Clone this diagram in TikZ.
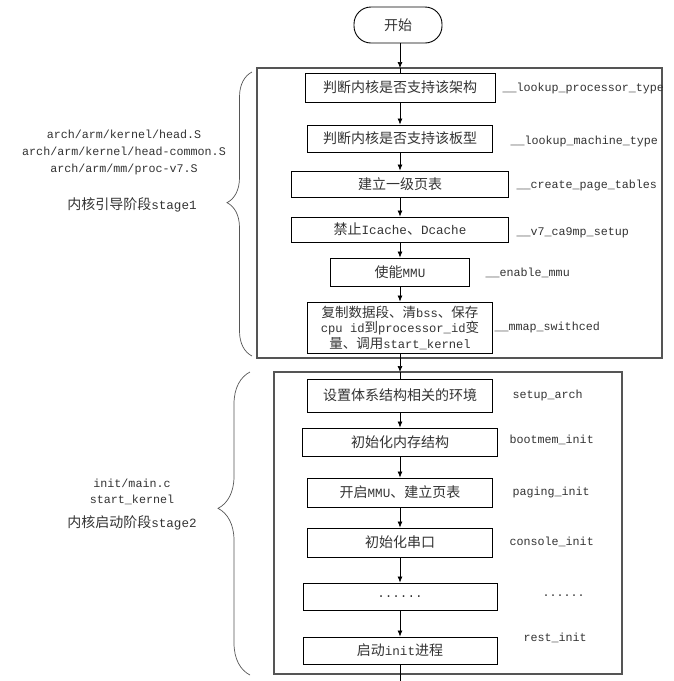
\documentclass[tikz,border=0pt]{standalone}
\usepackage{fontspec}
\setmainfont{Noto Sans CJK SC}
\setmonofont{Liberation Mono}[Scale=0.9]
\usetikzlibrary{arrows.meta, decorations.pathreplacing}
\definecolor{rahmen}{HTML}{555555}
\definecolor{schrift}{HTML}{333333}

\begin{document}
\begin{tikzpicture}[x=1pt, y=-1pt,
    box/.style={draw, line width=0.9pt, inner sep=1pt, align=center,
                font=\fontsize{14}{16}\selectfont, text=schrift},
    fn/.style={anchor=west, font=\fontsize{13}{15}\ttfamily, text=schrift},
    side/.style={align=center, font=\fontsize{13}{17}\ttfamily, text=schrift},
    arr/.style={-{Latex[length=6pt,width=5pt]}, line width=0.7pt},
    stage/.style={draw=rahmen, line width=1.1pt},
    brc/.style={decorate, draw=rahmen, line width=0.7pt}
  ]
  \useasboundingbox (0,0) rectangle (673,681);

  % Rahmen
  \draw[stage] (257,68) rectangle (662,358);
  \draw[stage] (274,372) rectangle (622,674);
  \coordinate (s1in) at (400,68);
  \coordinate (s2in) at (400,372);
  \coordinate (ende) at (400,681);

  \node[box, rounded corners=17pt, minimum width=88pt, minimum height=36pt] (start) at (398,25) {开始};

  % stage1
  \node[box, minimum width=190pt, minimum height=29pt] (b1) at (400,87.5) {判断内核是否支持该架构};
  \node[box, minimum width=185pt, minimum height=27pt] (b2) at (400,138.5) {判断内核是否支持该板型};
  \node[box, minimum width=217pt, minimum height=26pt] (b3) at (400,184) {建立一级页表};
  \node[box, minimum width=217pt, minimum height=25pt] (b4) at (400,229.5) {禁止\texttt{Icache}、\texttt{Dcache}};
  \node[box, minimum width=139pt, minimum height=28pt] (b5) at (400,272) {使能\texttt{MMU}};
  \node[box, minimum width=185pt, minimum height=51pt, font=\fontsize{13.5}{15.5}\selectfont] (b6) at (400,327.5)
    {复制数据段、清\texttt{bss}、保存\\\texttt{cpu id}到\texttt{processor\_id}变\\量、调用\texttt{start\_kernel}};

  \node[fn] (f1) at (499,88) {\_\_lookup\_processor\_type};
  \node[fn] (f2) at (507,141) {\_\_lookup\_machine\_type};
  \node[fn] (f3) at (513,185) {\_\_create\_page\_tables};
  \node[fn] (f4) at (513,233) {\_\_v7\_ca9mp\_setup};
  \node[fn] (f5) at (482,273) {\_\_enable\_mmu};
  \node[fn] (f6) at (491,327) {\_\_mmap\_swithced};

  % stage2
  \node[box, minimum width=185pt, minimum height=33pt] (c1) at (400,395.5) {设置体系结构相关的环境};
  \node[box, minimum width=195pt, minimum height=28pt] (c2) at (400,442) {初始化内存结构};
  \node[box, minimum width=185pt, minimum height=29pt] (c3) at (400,492.5) {开启\texttt{MMU}、建立页表};
  \node[box, minimum width=185pt, minimum height=29pt] (c4) at (400,542.5) {初始化串口};
  \node[box, minimum width=194pt, minimum height=27pt] (c5) at (400,596.5) {\texttt{......}};
  \node[box, minimum width=194pt, minimum height=27pt] (c6) at (400,650.5) {启动\texttt{init}进程};

  \node[fn] (g1) at (509,395) {setup\_arch};
  \node[fn] (g2) at (506,440) {bootmem\_init};
  \node[fn] (g3) at (509,492) {paging\_init};
  \node[fn] (g4) at (506,542) {console\_init};
  \node[fn] (g5) at (539,596) {......};
  \node[fn] (g6) at (520,638) {rest\_init};

  % Pfeile
  \draw[arr] (start.south -| s1in) -- (s1in);
  \draw[line width=0.7pt] (s1in) -- (b1);
  \foreach \a/\b in {b1/b2, b2/b3, b3/b4, b4/b5, b5/b6, c1/c2, c2/c3, c3/c4, c4/c5, c5/c6}
    \draw[arr] (\a) -- (\b);
  \draw[arr] (b6) -- (s2in);
  \draw[line width=0.7pt] (s2in) -- (c1);
  \draw[line width=0.7pt] (c6) -- (ende);

  % Klammern
  \draw[brc, decoration={brace, amplitude=25pt, aspect=0.54}] (252,356) -- (252,72);
  \draw[brc, decoration={brace, amplitude=32pt, aspect=0.55}] (250,675) -- (250,372);

  \node[side] (p1) at (124,152) {arch/arm/kernel/head.S\\arch/arm/kernel/head-common.S\\arch/arm/mm/proc-v7.S};
  \node[side, font=\fontsize{14}{17}\selectfont] (t1) at (132,205) {内核引导阶段\texttt{stage1}};
  \node[side, font=\fontsize{13}{16}\ttfamily] (p2) at (132,492) {init/main.c\\start\_kernel};
  \node[side, font=\fontsize{14}{17}\selectfont] (t2) at (132,523) {内核启动阶段\texttt{stage2}};
\end{tikzpicture}
\end{document}
